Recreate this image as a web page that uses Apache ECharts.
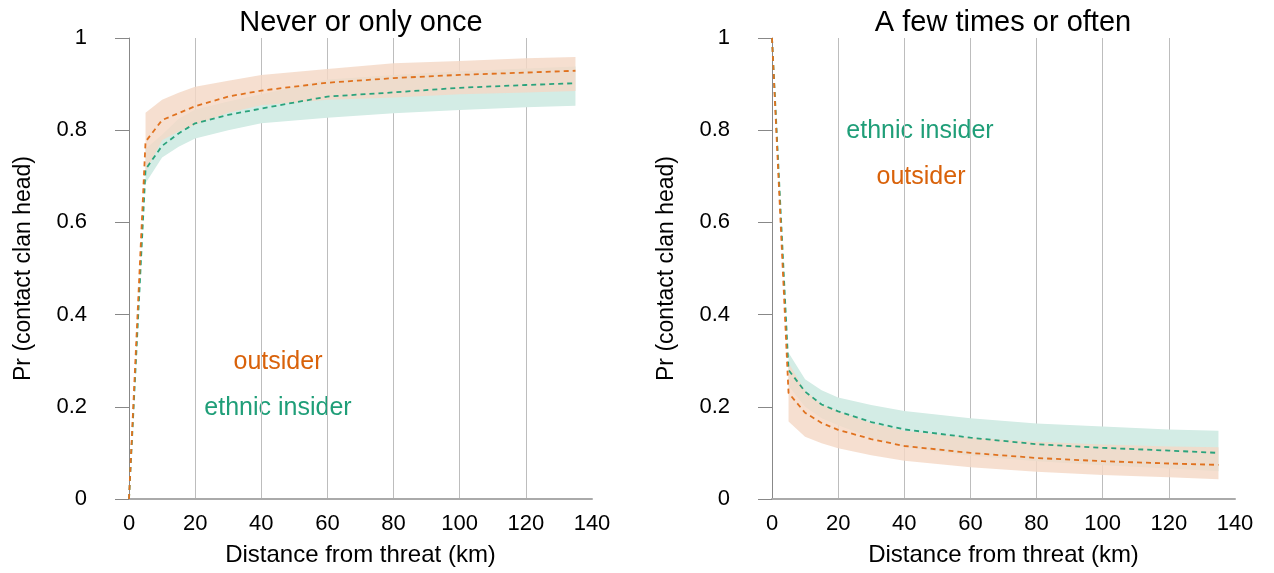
<!DOCTYPE html>
<html><head><meta charset="utf-8">
<script src="https://cdn.jsdelivr.net/npm/echarts@6/dist/echarts.min.js"></script>
<style>html,body{margin:0;padding:0;background:#fff}#c{width:1274px;height:573px}</style>
</head><body><div id="c"></div><script>
// ---- data ----
const distance = [0, 5, 10, 15, 20, 30, 40, 60, 80, 100, 120, 135];
const xTickLabels = ['0','20','40','60','80','100','120','140'];
const yTickLabels = ['0','0.2','0.4','0.6','0.8','1'];
const panelTitles = ['Never or only once', 'A few times or often'];

// Left panel: "Never or only once"
const leftOutsiderMean = [0, 0.775, 0.822, 0.837, 0.852, 0.873, 0.886, 0.903, 0.913, 0.920, 0.925, 0.929];
const leftOutsiderLow  = [null, 0.710, 0.778, 0.797, 0.812, 0.838, 0.854, 0.866, 0.871, 0.878, 0.882, 0.885];
const leftOutsiderHigh = [null, 0.838, 0.866, 0.881, 0.894, 0.907, 0.920, 0.933, 0.945, 0.950, 0.956, 0.959];
const leftInsiderMean  = [0, 0.715, 0.766, 0.793, 0.815, 0.833, 0.847, 0.873, 0.882, 0.892, 0.898, 0.902];
const leftInsiderLow   = [null, 0.685, 0.741, 0.764, 0.782, 0.800, 0.815, 0.827, 0.837, 0.844, 0.850, 0.853];
const leftInsiderHigh  = [null, 0.760, 0.790, 0.825, 0.845, 0.862, 0.878, 0.910, 0.920, 0.928, 0.934, 0.938];

// Right panel: "A few times or often"
const rightOutsiderMean = [1, 0.230, 0.187, 0.165, 0.150, 0.130, 0.115, 0.100, 0.089, 0.082, 0.077, 0.074];
const rightOutsiderLow  = [null, 0.168, 0.135, 0.121, 0.110, 0.095, 0.083, 0.069, 0.059, 0.052, 0.047, 0.043];
const rightOutsiderHigh = [null, 0.295, 0.235, 0.205, 0.190, 0.165, 0.148, 0.133, 0.124, 0.118, 0.114, 0.112];
const rightInsiderMean  = [1, 0.280, 0.233, 0.205, 0.190, 0.167, 0.151, 0.133, 0.119, 0.111, 0.105, 0.100];
const rightInsiderLow   = [null, 0.245, 0.200, 0.175, 0.160, 0.133, 0.112, 0.094, 0.082, 0.073, 0.066, 0.060];
const rightInsiderHigh  = [null, 0.317, 0.260, 0.236, 0.220, 0.204, 0.191, 0.175, 0.164, 0.157, 0.151, 0.148];

// ---- styling ----
const F = '"Liberation Sans", Arial, sans-serif';
const ORANGE_LINE = '#e0721f', GREEN_LINE = '#2aa37c';
const ORANGE_TEXT = '#d9620a', GREEN_TEXT = '#1f9e78';
const GREEN_BAND = 'rgb(211,236,229)';
const ORANGE_BAND = 'rgba(244,216,198,0.82)';

function pairs(xs, ys){ const out=[]; for(let i=0;i<xs.length;i++){ if(ys[i]!=null) out.push([xs[i], ys[i]]); } return out; }

function band(idx, lo, hi, color, z){
  return {
    type:'custom', xAxisIndex:idx, yAxisIndex:idx, silent:true, z:z,
    data: pairs(distance, lo).slice(0,1),
    renderItem: function(params, api){
      const top=[], bot=[];
      for(let i=0;i<distance.length;i++){
        if(lo[i]==null || hi[i]==null) continue;
        top.push(api.coord([distance[i], hi[i]]));
        bot.push(api.coord([distance[i], lo[i]]));
      }
      return {type:'polygon', shape:{points: top.concat(bot.reverse())}, style:{fill:color}};
    }
  };
}
function line(idx, ys, color, z){
  return {
    type:'line', xAxisIndex:idx, yAxisIndex:idx, data:pairs(distance, ys), showSymbol:false, symbol:'none',
    silent:true, z:z, lineStyle:{color:color, width:1.8, type:[5,4]}, animation:false
  };
}
function xAx(i){
  return { gridIndex:i, type:'value', min:0, max:140, interval:20,
    name:'Distance from threat (km)', nameLocation:'middle', nameGap:44,
    nameTextStyle:{fontSize:24, color:'#000', fontFamily:F},
    axisLine:{show:true, onZero:false, lineStyle:{color:'#aaaaaa', width:2}},
    axisTick:{show:false},
    axisLabel:{fontSize:22, color:'#000', margin:14, fontFamily:F,
      formatter: v => xTickLabels[Math.round(v/20)]},
    splitLine:{show:true, showMinLine:false, showMaxLine:false, lineStyle:{color:'#bdbdbd', width:1}}
  };
}
function yAx(i){
  return { gridIndex:i, type:'value', min:0, max:1, interval:0.2,
    name:'Pr (contact clan head)', nameLocation:'middle', nameGap:94,
    nameTextStyle:{fontSize:23, color:'#000', fontFamily:F},
    axisLine:{show:true, lineStyle:{color:'#888', width:1}},
    axisTick:{show:true, length:14, lineStyle:{color:'#888', width:1}},
    axisLabel:{fontSize:22, color:'#000', margin:42, fontFamily:F,
      formatter: v => yTickLabels[Math.round(v/0.2)]},
    splitLine:{show:false}
  };
}
function txt(x, y, s, size, color){
  return {type:'text', x:x, y:y, silent:true,
    style:{text:s, fontSize:size, fill:color, fontFamily:F, align:'center', verticalAlign:'middle'}};
}

const chart = echarts.init(document.getElementById('c'), null, {renderer:'canvas'});
chart.setOption({
  animation:false,
  backgroundColor:'#fff',
  grid:[
    {left:129, top:38, width:463, height:461},
    {left:772, top:38, width:463, height:461}
  ],
  xAxis:[xAx(0), xAx(1)],
  yAxis:[yAx(0), yAx(1)],
  series:[
    band(0, leftInsiderLow, leftInsiderHigh, GREEN_BAND, 1),
    band(0, leftOutsiderLow, leftOutsiderHigh, ORANGE_BAND, 2),
    line(0, leftInsiderMean, GREEN_LINE, 3),
    line(0, leftOutsiderMean, ORANGE_LINE, 4),
    band(1, rightInsiderLow, rightInsiderHigh, GREEN_BAND, 1),
    band(1, rightOutsiderLow, rightOutsiderHigh, ORANGE_BAND, 2),
    line(1, rightInsiderMean, GREEN_LINE, 3),
    line(1, rightOutsiderMean, ORANGE_LINE, 4)
  ],
  graphic:[
    txt(361, 23, panelTitles[0], 29, '#000'),
    txt(1003, 23, panelTitles[1], 29, '#000'),
    txt(278, 362, 'outsider', 25, ORANGE_TEXT),
    txt(278, 408, 'ethnic insider', 25, GREEN_TEXT),
    txt(920, 131, 'ethnic insider', 25, GREEN_TEXT),
    txt(921, 177, 'outsider', 25, ORANGE_TEXT)
  ]
});
</script></body></html>
